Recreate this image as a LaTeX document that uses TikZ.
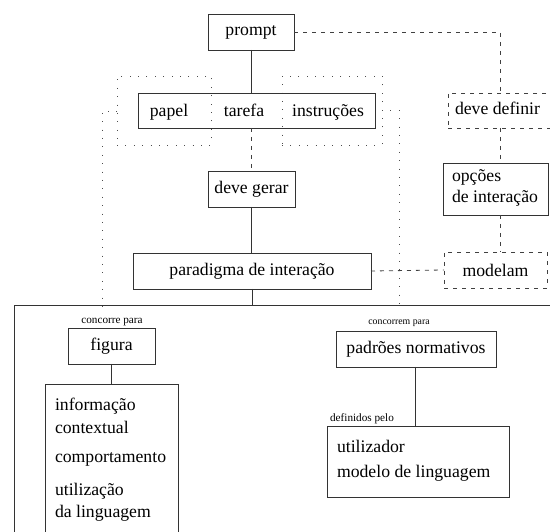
\documentclass[tikz,border=0pt]{standalone}
\usepackage{fontspec}
\setmainfont{Liberation Serif}
\begin{document}
\begin{tikzpicture}[x=1pt,y=-1pt,
  every node/.style={inner sep=0pt, outer sep=0pt, font=\fontsize{17.7}{21}\selectfont},
  box/.style={draw=black!80, line width=0.8pt, fill=white},
  dbox/.style={draw=black!75, line width=0.8pt, dash pattern=on 4pt off 5pt},
  dotbox/.style={draw=black!70, line width=0.9pt, dash pattern=on 0.9pt off 7.5pt},
  solidline/.style={draw=black!80, line width=0.8pt},
  dashline/.style={draw=black!75, line width=0.8pt, dash pattern=on 4pt off 5pt},
  dotline/.style={draw=black!70, line width=0.9pt, dash pattern=on 0.9pt off 7.5pt},
  txt/.style={anchor=base west}
]
\clip (0,0) rectangle (550,532);
\fill[white] (0,0) rectangle (550,532);

% dotted grouping boxes
\node[dotbox, minimum width=94pt, minimum height=69pt] (papelg) at (164,110.5) {};
\node[dotbox, minimum width=100pt, minimum height=69pt] (instrg) at (332,110.5) {};

% main boxes
\node[box, minimum width=86pt, minimum height=36pt] (prompt) at (251,32) {prompt};
\node[draw=black!80, line width=0.8pt, minimum width=237pt, minimum height=35pt] (main) at (256.5,110.5) {};
\node[anchor=base] (papel) at (169,117) {papel};
\node[anchor=base] (tarefa) at (244,117) {tarefa};
\node[anchor=base] (instr) at (328,117) {instruções};
\node[box, minimum width=87pt, minimum height=36pt] (gerar) at (251.5,189) {deve gerar};
\node[box, minimum width=238pt, minimum height=36pt] (parad) at (252,271) {paradigma de interação};

% right column
\node[dbox, minimum width=117pt, minimum height=35pt] (definir) at (506.5,110.5) {};
\node[txt] (definirt) at (455,115) {deve definir};
\node[box, minimum width=105pt, minimum height=52pt] (opcoes) at (495.5,189) {};
\node[txt] (opc1) at (452,182) {opções};
\node[txt] (opc2) at (452,203) {de interação};
\node[dbox, minimum width=103pt, minimum height=36pt] (modelam) at (495.5,270) {modelam};

% lower frame
\coordinate (frtop) at (252,305);
\draw[solidline] (560,305) -- (14,305) -- (14,545);

\node[box, minimum width=87pt, minimum height=36pt] (figura) at (111.5,346) {figura};
\node[box, minimum width=133pt, minimum height=160pt] (info) at (111.5,464) {};
\node[txt] (i1) at (55,411) {informação};
\node[txt] (i2) at (55,434) {contextual};
\node[txt] (i3) at (55,462) {comportamento};
\node[txt] (i4) at (55,495) {utilização};
\node[txt] (i5) at (55,517) {da linguagem};

\node[box, minimum width=160pt, minimum height=36pt] (padroes) at (416,349) {padrões normativos};
\node[box, minimum width=182pt, minimum height=71pt] (util) at (418,461.5) {};
\node[txt] (u1) at (337,453) {utilizador};
\node[txt] (u2) at (337,478) {modelo de linguagem};

% small labels
\node[anchor=base, font=\fontsize{11.2}{13}\selectfont] (lab1) at (112,324) {concorre para};
\node[anchor=base, font=\fontsize{9.8}{12}\selectfont] (lab2) at (399,325) {concorrem para};
\node[anchor=base, font=\fontsize{11.2}{13}\selectfont] (lab3) at (362,421) {definidos pelo};

% connectors
\coordinate (ddtop) at (500,93);
\coordinate (ddbot) at (500,128);
\coordinate (dotL) at (102,310);
\coordinate (dotR) at (399,309);
\draw[solidline] (prompt.south) -- (prompt.south |- main.north);
\draw[dashline] (prompt.east) -| (ddtop);
\draw[dashline] (ddbot) -- (ddbot |- opcoes.north);
\draw[dashline] (ddbot |- opcoes.south) -- (ddbot |- modelam.north);
\draw[dashline] (parad.east) -- (modelam.west);
\draw[dashline] (main.south -| gerar.north) -- (gerar.north);
\draw[solidline] (gerar.south) -- (gerar.south |- parad.north);
\draw[solidline] (parad.south) -- (frtop);
\draw[dotline] (papelg.west |- 0,111) -- (102,111) -- (dotL);
\draw[dotline] (instrg.east |- 0,110) -- (399,110) -- (dotR);
\draw[solidline] (figura.south) -- (figura.south |- info.north);
\draw[solidline] (padroes.south -| 415,0) -- (util.north -| 415,0);
\end{tikzpicture}
\end{document}
